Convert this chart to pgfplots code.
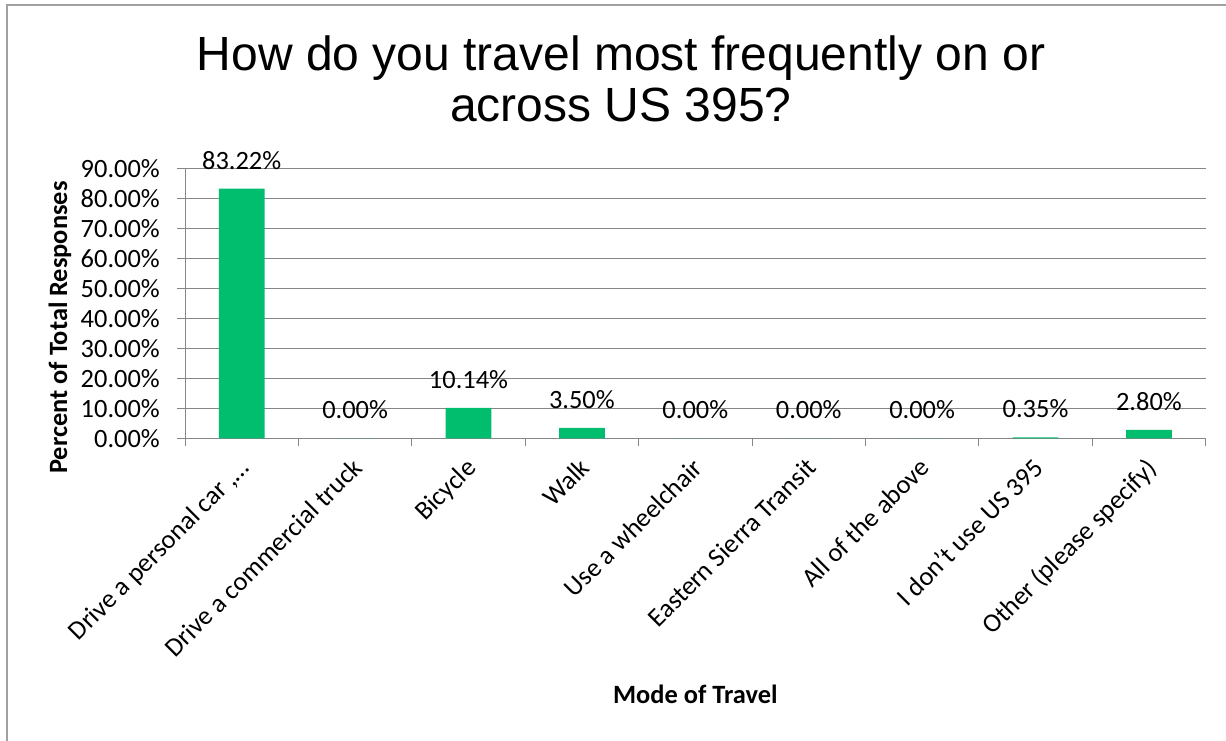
\documentclass[border=0pt]{standalone}
\usepackage{fontspec}
\setmainfont{Carlito}
\newfontfamily\titlefont{Liberation Sans}
\usepackage{pgfplots}
\pgfplotsset{compat=1.18}
\definecolor{bargreen}{RGB}{0,190,110}
\definecolor{gridgray}{RGB}{134,134,134}
\definecolor{framegray}{RGB}{160,160,160}
\newcommand{\lbl}{\fontsize{26.4}{31}\selectfont}
\begin{document}
\begin{tikzpicture}
\path[use as bounding box] (0pt,0pt) rectangle (1226pt,740pt);
\draw[framegray, line width=1.5pt] (7pt,-20pt) -- (7pt,735pt) -- (1260pt,735pt);
\node[font=\titlefont\fontsize{48}{51}\selectfont, anchor=base, inner sep=0pt] at (621pt,669pt) {How do you travel most frequently on or};
\node[font=\titlefont\fontsize{48}{51}\selectfont, anchor=base, inner sep=0pt] at (621pt,618pt) {across US 395?};
\begin{axis}[
  at={(185pt,301.7pt)}, anchor=south west,
  scale only axis, width=1020.7pt, height=270pt,
  xmin=-0.5, xmax=8.5, ymin=0, ymax=90,
  axis x line*=bottom, axis y line*=left,
  axis line style={gridgray, line width=1pt},
  /pgf/number format/assume math mode=true,
  ytick={0,10,...,90},
  ymajorgrids, grid style={gridgray, line width=1pt},
  yticklabel={\pgfmathprintnumber[fixed,fixed zerofill,precision=2]{\tick}\%},
  yticklabel style={font=\lbl, anchor=east, inner sep=0pt, xshift=-17pt},
  tick align=outside, major tick length=8pt, minor tick length=8pt,
  major y tick style={gridgray, line width=1pt},
  xtick={0,...,8},
  major x tick style={draw=none},
  minor xtick={-0.5,0.5,...,8.5},
  minor x tick style={gridgray, line width=1pt},
  xticklabels={{Drive a personal car ,…},{Drive a commercial truck},{Bicycle},{Walk},{Use a wheelchair},{Eastern Sierra Transit},{All of the above},{I don’t use US 395},{Other (please specify)}},
  xticklabel style={font=\lbl, yshift=-10pt, xshift=-4pt, rotate=45, anchor=north east, inner sep=0pt},
  xlabel={Mode of Travel},
  xlabel style={font=\lbl\bfseries, at={(rel axis cs:0.5,-0.9815)}, anchor=base, inner sep=0pt},
  ylabel={Percent of Total Responses},
  ylabel style={font=\lbl\bfseries, at={(rel axis cs:-0.1156,0.4104)}, anchor=base, rotate=0, inner sep=0pt},
  nodes near coords={\pgfmathprintnumber[fixed,fixed zerofill,precision=2]{\pgfplotspointmeta}\%},
  every node near coord/.append style={font=\lbl, anchor=base, yshift=19.5pt, inner sep=0pt, text=black},
]
\addplot[ybar, bar width=45.7pt, fill=bargreen, draw=none] coordinates {
  (0,83.22) (1,0) (2,10.14) (3,3.50) (4,0) (5,0) (6,0) (7,0.35) (8,2.80)
};
\end{axis}
\end{tikzpicture}
\end{document}
